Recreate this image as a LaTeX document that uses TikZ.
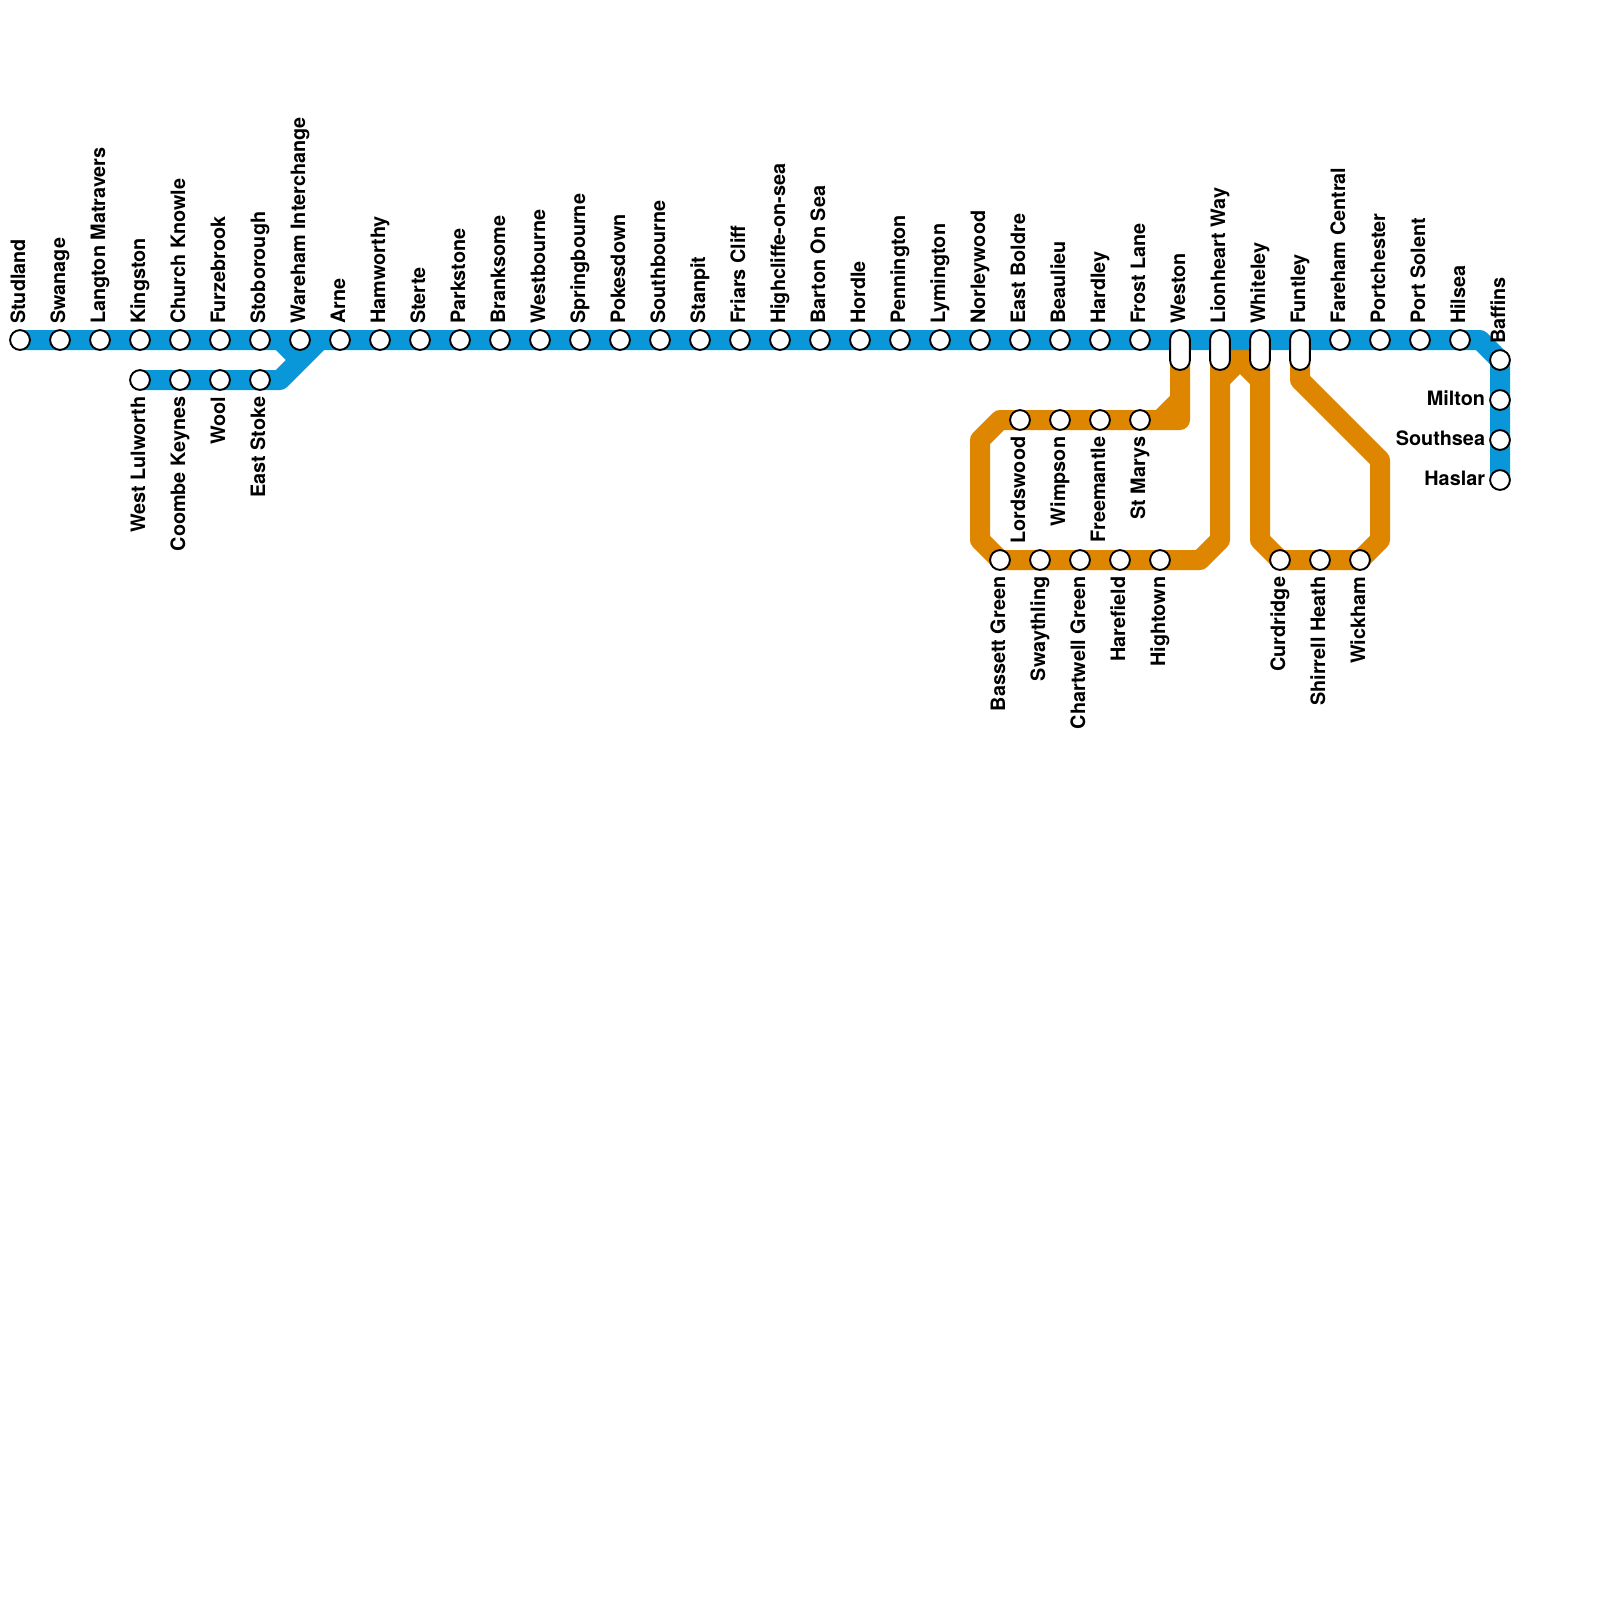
\documentclass[tikz,border=0pt]{standalone}
\usepackage{fontspec}
\setmainfont{TeX Gyre Heros}
\usetikzlibrary{backgrounds}
\definecolor{lineblue}{HTML}{0A97D9}
\definecolor{lineorange}{HTML}{DF8600}
\tikzset{
  stn/.style={circle,draw=black,fill=white,line width=1.35pt,minimum size=.495cm,inner sep=0pt,outer sep=0pt},
  interchange/.style={rectangle,draw=black,fill=white,line width=1.35pt,rounded corners=.24cm,minimum width=.495cm,minimum height=.995cm,inner sep=0pt,outer sep=0pt},
  stnlab/.style={font=\fontsize{14.1}{16}\selectfont\bfseries,inner sep=0pt},
  uplab/.style={stnlab,rotate=90,anchor=base west},
  downlab/.style={stnlab,rotate=90,anchor=base east},
  leftlab/.style={stnlab,anchor=base east},
  blueline/.style={draw=lineblue,line width=.5cm,line join=round},
  orangeline/.style={draw=lineorange,line width=.5cm,line join=round},
}
\begin{document}
\begin{tikzpicture}[y=-1cm]
	\useasboundingbox (0,0) rectangle (40,40);
	% main line
	\foreach \x/\lab in {1/Studland,2/Swanage,3/Langton Matravers,4/Kingston,5/Church Knowle,6/Furzebrook,7/Stoborough,8/Wareham Interchange,9/Arne,10/Hamworthy,11/Sterte,12/Parkstone,13/Branksome,14/Westbourne,15/Springbourne,16/Pokesdown,17/Southbourne,18/Stanpit,19/Friars Cliff,20/Highcliffe-on-sea,21/Barton On Sea,22/Hordle,23/Pennington,24/Lymington,25/Norleywood,26/East Boldre,27/Beaulieu,28/Hardley,29/Frost Lane,34/Fareham Central,35/Portchester,36/Port Solent,37/Hilsea}{
		\node[stn] (t\x) at (\x-.5,8.5) {};
		\node[uplab] (tl\x) at ([shift={(.125,-.15)}]t\x.north) {\lab};
	}
	\foreach \x/\lab in {30/Weston,31/Lionheart Way,32/Whiteley,33/Funtley}{
		\node[interchange] (t\x) at (\x-.5,8.75) {};
		\node[uplab] (tl\x) at ([shift={(.125,-.15)}]t\x.north) {\lab};
	}
	% east end
	\node[stn] (e1) at (37.5,9) {};
	\node[uplab] (el1) at ([shift={(.125,-.15)}]e1.north) {Baffins};
	\foreach \i/\lab in {2/Milton,3/Southsea,4/Haslar}{
		\node[stn] (e\i) at (37.5,8+\i) {};
		\node[leftlab] (el\i) at ([shift={(-.12,.13)}]e\i.west) {\lab};
	}
	% west branch
	\foreach \i/\lab in {1/West Lulworth,2/Coombe Keynes,3/Wool,4/East Stoke}{
		\node[stn] (w\i) at (2.5+\i,9.5) {};
		\node[downlab] (wl\i) at ([shift={(.125,.165)}]w\i.south) {\lab};
	}
	% orange loops
	\foreach \i/\lab in {1/Lordswood,2/Wimpson,3/Freemantle,4/St Marys}{
		\node[stn] (m\i) at (24.5+\i,10.5) {};
		\node[downlab] (ml\i) at ([shift={(.125,.165)}]m\i.south) {\lab};
	}
	\foreach \i/\lab in {1/Bassett Green,2/Swaythling,3/Chartwell Green,4/Harefield,5/Hightown}{
		\node[stn] (b\i) at (24+\i,14) {};
		\node[downlab] (bl\i) at ([shift={(.125,.165)}]b\i.south) {\lab};
	}
	\foreach \i/\lab in {1/Curdridge,2/Shirrell Heath,3/Wickham}{
		\node[stn] (c\i) at (31+\i,14) {};
		\node[downlab] (cl\i) at ([shift={(.125,.165)}]c\i.south) {\lab};
	}
	\begin{pgfonlayer}{background}
		\draw[orangeline] (t30.center) |- (m4.center) -- (m1.center) -- ++(-.5,0) -- ++(-.5,.5) -- ++(0,2.5) -- (b1.center) -- (b5.center) -- ++(1,0) -- ++(.5,-.5) -- (t31.center);
		\draw[orangeline] (29.5,10) -- (29,10.5);
		\draw[orangeline] (t31.center) ++(0,.25) -- ++(1,0);
		\draw[orangeline] (30.5,9.5) -- (31,9) -- (31.5,9.5);
		\draw[orangeline] (t32.center) -- (31.5,13.5) -- (c1.center) -- (c3.center) -- ++(.5,-.5) -- ++(0,-2) -- (32.5,9.5) -- (t33.center);
		\draw[blueline] (t1.center) -- (t37.center) -- ++(.5,0) -- (e1.center) -- (e4.center);
		\draw[blueline] (w1.center) -- (w4.center) -- ++(.5,0) -- ++(1,-1);
		\draw[blueline] (t7.center) ++(.5,0) -- ++(.5,.5);
	\end{pgfonlayer}
\end{tikzpicture}
\end{document}
